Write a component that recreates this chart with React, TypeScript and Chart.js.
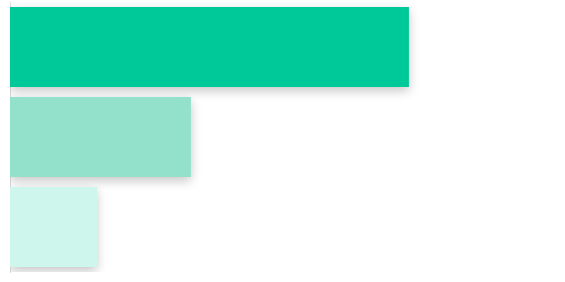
import React, { useEffect, useRef } from "react";
import { Chart, registerables } from "chart.js";

Chart.register(...registerables);

const categories = ["A", "B", "C"];
const values = [73.2, 33.2, 16];
const colors = ["#00C999", "#94E1CB", "#CFF6EC"];

const shadowPlugin = {
  id: "barShadow",
  beforeDatasetsDraw(chart: any) {
    const ctx = chart.ctx;
    ctx.save();
    ctx.shadowColor = "rgba(0,0,0,0.22)";
    ctx.shadowBlur = 10;
    ctx.shadowOffsetX = 0;
    ctx.shadowOffsetY = 4;
  },
  afterDatasetsDraw(chart: any) {
    chart.ctx.restore();
  },
};

export default function App() {
  const ref = useRef<HTMLCanvasElement | null>(null);
  useEffect(() => {
    document.body.style.margin = "0";
    const chart = new Chart(ref.current as HTMLCanvasElement, {
      type: "bar",
      data: {
        labels: categories,
        datasets: [
          {
            data: values,
            backgroundColor: colors,
            borderWidth: 0,
            barPercentage: 1,
            categoryPercentage: 80 / 90,
          },
        ],
      },
      options: {
        indexAxis: "y",
        animation: false,
        responsive: false,
        maintainAspectRatio: false,
        layout: { padding: { top: 2, bottom: 10, left: 2, right: 10 } },
        plugins: { legend: { display: false }, tooltip: { enabled: false } },
        scales: {
          x: { display: false, min: 0, max: 100 },
          y: {
            display: true,
            grid: { display: false },
            ticks: { display: false },
            border: { display: true, color: "#dddddd", width: 1 },
          },
        },
      },
      plugins: [shadowPlugin],
    } as any);
    return () => chart.destroy();
  }, []);
  return (
    <div style={{ position: "fixed", left: 0, top: 0, width: 565, height: 282 }}>
      <canvas ref={ref} width={565} height={282} style={{ width: 565, height: 282 }} />
    </div>
  );
}
